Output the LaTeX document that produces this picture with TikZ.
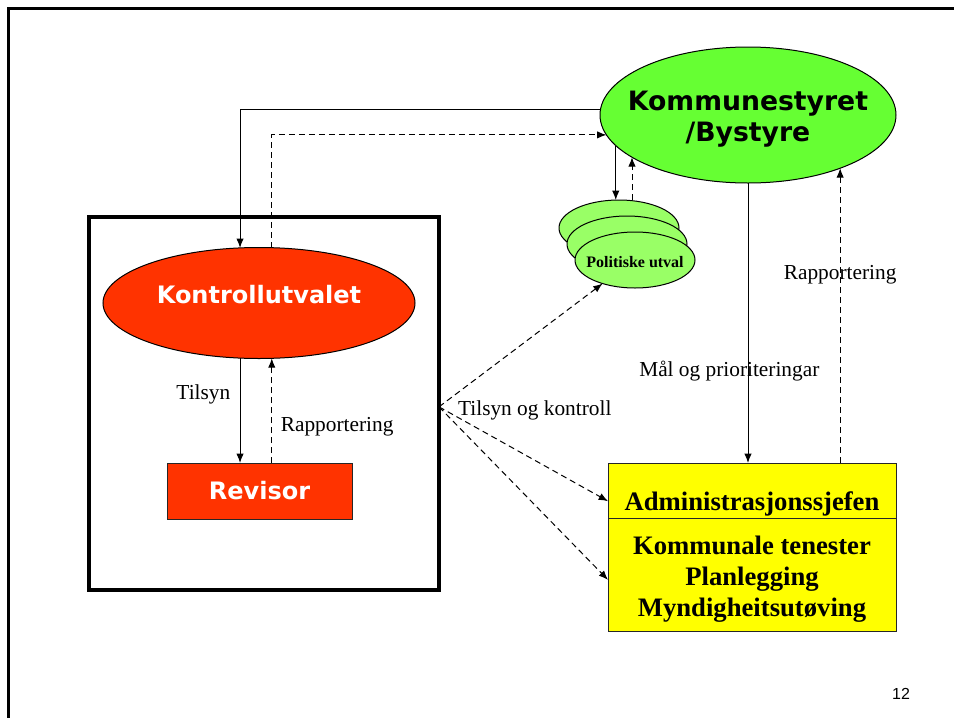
\documentclass[tikz,border=0pt]{standalone}
\usepackage{fontspec}
\setmainfont{Liberation Serif}
\newfontfamily\verdfont{DejaVu Sans}
\newfontfamily\arialfont{Liberation Sans}
\usetikzlibrary{shapes.geometric,positioning,arrows.meta}
\definecolor{komgreen}{HTML}{66FF33}
\definecolor{utvgreen}{HTML}{99FF66}
\definecolor{kured}{HTML}{FF3300}
\definecolor{admyellow}{HTML}{FFFF00}

\begin{document}
\begin{tikzpicture}[x=0.75pt,y=-0.75pt,every node/.style={outer sep=0pt},
		>={Latex[length=7pt,width=5.5pt]},
		slideframe/.style={line width=2.25pt},
		organ/.style={ellipse,draw,line width=0.75pt,inner sep=0pt},
		unit/.style={rectangle,draw=black!85,line width=0.75pt},
		lbl/.style={font=\fontsize{16}{19}\selectfont},
		bigtxt/.style={font=\verdfont\bfseries\fontsize{20}{23}\selectfont,align=center},
		whitetxt/.style={font=\verdfont\bfseries\fontsize{18}{22}\selectfont,text=white},
		tnr/.style={font=\bfseries\fontsize{20}{23.6}\selectfont,align=center},
		tie/.style={line width=0.75pt,->},
		report/.style={line width=0.75pt,->,dash pattern=on 4.5pt off 3pt}]
		
		\useasboundingbox (0,0) rectangle (954,718);
		\draw[slideframe] (8.5,718) -- (8.5,8) -- (954,8);
		
		\node[organ,fill=komgreen,minimum width=222pt,minimum height=102pt,
		label={[bigtxt,yshift=-3pt]center:Kommunestyret\\/Bystyre}] (kom) at (748,115) {};
		
		\node[draw,line width=3pt,minimum width=262.5pt,minimum height=279.75pt] (box) at (264,403.5) {};
		\node[organ,fill=kured,minimum width=234pt,minimum height=83.25pt,
		label={[whitetxt,yshift=6pt]center:Kontrollutvalet}] (kon) at (259,303) {};
		\node[unit,fill=kured,minimum width=138.75pt,minimum height=42pt,whitetxt] (rev) at (259.5,491) {Revisor};
		
		\foreach \i/\x/\y in {1/619/228,2/627/244,3/635/260}
		{
			\node[organ,fill=utvgreen,minimum width=90pt,minimum height=42pt] (pol\i) at (\x,\y) {};
		}
		\node[font=\bfseries\fontsize{12}{14}\selectfont] (poltxt) at ([yshift=-1.5pt]pol3.center) {Politiske utval};
		
		\node[unit,fill=admyellow,minimum width=216pt,minimum height=41.25pt,
		label={[tnr,yshift=-10pt]center:Administrasjonssjefen}] (adm) at (752,490.5) {};
		\node[unit,fill=admyellow,minimum width=216pt,minimum height=84.75pt,below=0pt of adm] (ten) {};
		\node[tnr] (tentxt) at ([yshift=-3.5pt]ten.center) {Kommunale tenester\\Planlegging\\Myndigheitsutøving};
		
		% kommunestyret <-> kontrollutvalet
		\draw[tie] (kom.178) -| (kon.109);
		\draw[report] (kon.77) |- (kom.188);
		
		\draw[tie] (kon.-109) -- (kon.-109 |- rev.north) node[lbl,pos=0.35,left=4pt]{Tilsyn};
		\draw[report] (kon.-77 |- rev.north) -- (kon.-77) node[lbl,pos=0.35,right=3.5pt]{Rapportering};
		
		\draw[tie] (kom.193) -- (kom.193 |- pol1.north);
		\draw[report] (kom.200 |- pol1.north) -- (kom.200);
		
		\draw[tie] (kom.south) -- (kom.south |- adm.north) node[lbl,pos=0.67,xshift=-14pt]{Mål og prioriteringar};
		\draw[report] (kom.-30 |- adm.north) -- (kom.-30) node[lbl,pos=0.64]{Rapportering};
		
		% tilsyn og kontroll
		\coordinate (tk) at ([yshift=-2.5pt]box.east);
		\draw[report] (tk) -- (pol3.216);
		\draw[report] (tk) -- ([yshift=-8pt]adm.west);
		\draw[report] (tk) -- ([yshift=-4pt]ten.west);
		\node[lbl,right=11pt of tk,yshift=-2.5pt] (ltk) {Tilsyn og kontroll};
		
		\node[font=\arialfont\fontsize{12}{14}\selectfont] (pg) at (901,694) {12};
		
	\end{tikzpicture}
\end{document}
